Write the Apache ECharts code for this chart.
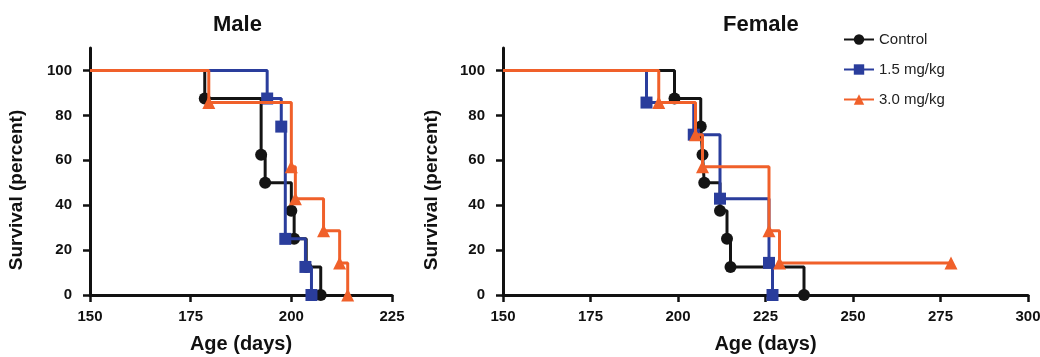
<!DOCTYPE html>
<html>
<head>
<meta charset="utf-8">
<script src="https://cdn.jsdelivr.net/npm/echarts@6/dist/echarts.min.js"></script>
<style>
    html, body { margin: 0; padding: 0; background: #fff; }
    #chart { width: 1040px; height: 357px; }
</style>
</head>
<body>
<div id="chart"></div>
<script>
    // group names (legend)
    var groupNames = ['Control', '1.5 mg/kg', '3.0 mg/kg'];
    var yTicks = [0, 20, 40, 60, 80, 100];

    // Kaplan-Meier points: [age in days, survival %]
    var maleControl = [[150, 100], [178.5, 87.5], [192.5, 62.5], [193.5, 50], [200, 37.5], [200.7, 25], [203.7, 12.5], [207.3, 0]];
    var maleLow = [[150, 100], [194, 87.5], [197.5, 75], [198.5, 25], [203.5, 12.5], [205, 0]];
    var maleHigh = [[150, 100], [179.5, 85.7], [200, 57.1], [201, 42.9], [208, 28.6], [212, 14.3], [214, 0]];

    var femaleControl = [[150, 100], [199, 87.5], [206.5, 75], [207, 62.5], [207.5, 50], [212, 37.5], [214, 25], [215, 12.5], [236, 0]];
    var femaleLow = [[150, 100], [191, 85.7], [204.5, 71.4], [212, 42.9], [226, 14.3], [227, 0]];
    var femaleHigh = [[150, 100], [194.5, 85.7], [205, 71.4], [207, 57.1], [226, 28.6], [229, 14.3], [278, 14.3]];

    var colors = ['#141414', '#2a3d9c', '#f0602a'];
    var symbols = ['circle', 'rect', 'triangle'];
    var fontFamily = '"Liberation Sans", Arial, sans-serif';

    // first point is the start of the curve, no marker there
    function toData(points) {
        return points.map(function (p, i) {
            return i === 0 ? { value: p, symbol: 'none' } : { value: p };
        });
    }

    function makeSeries(points, idx, axisIdx) {
        return {
            name: groupNames[idx],
            type: 'line',
            step: 'end',
            xAxisIndex: axisIdx,
            yAxisIndex: axisIdx,
            data: toData(points),
            symbol: symbols[idx],
            symbolSize: idx === 2 ? 13 : 12,
            showSymbol: true,
            z: 2 + idx,
            lineStyle: { color: colors[idx], width: 3 },
            itemStyle: { color: colors[idx] }
        };
    }

    function makeXAxis(gridIdx, max) {
        return {
            type: 'value',
            gridIndex: gridIdx,
            min: 150,
            max: max,
            interval: 25,
            name: 'Age (days)',
            nameLocation: 'middle',
            nameGap: 39,
            nameTextStyle: { fontSize: 20, fontWeight: 'bold', color: '#111', fontFamily: fontFamily },
            axisLine: { lineStyle: { color: '#111', width: 3 } },
            axisTick: { length: 7, lineStyle: { color: '#111', width: 2.5 } },
            axisLabel: { fontSize: 15, fontWeight: 'bold', color: '#111', margin: 14, fontFamily: fontFamily },
            splitLine: { show: false }
        };
    }

    function makeYAxis(gridIdx) {
        return {
            type: 'value',
            gridIndex: gridIdx,
            min: 0,
            max: 110,
            axisLine: { show: true, lineStyle: { color: '#111', width: 3 } },
            axisTick: { show: true, length: 7, customValues: yTicks, lineStyle: { color: '#111', width: 2.5 } },
            axisLabel: { fontSize: 15, fontWeight: 'bold', color: '#111', margin: 18, customValues: yTicks, fontFamily: fontFamily },
            splitLine: { show: false }
        };
    }

    function yName(x) {
        return {
            type: 'text',
            x: x,
            y: 190,
            rotation: Math.PI / 2,
            style: {
                text: 'Survival (percent)',
                fill: '#111',
                font: 'bold 19px ' + fontFamily,
                textAlign: 'center',
                textVerticalAlign: 'middle'
            }
        };
    }

    var myChart = echarts.init(document.getElementById('chart'));
    var option = {
        animation: false,
        backgroundColor: '#fff',
        title: [
            { text: 'Male', left: 208, top: 9, textStyle: { fontSize: 22, fontWeight: 'bold', color: '#111', fontFamily: fontFamily } },
            { text: 'Female', left: 718, top: 9, textStyle: { fontSize: 22, fontWeight: 'bold', color: '#111', fontFamily: fontFamily } }
        ],
        legend: {
            data: groupNames,
            orient: 'vertical',
            left: 838,
            top: 27,
            itemWidth: 30,
            itemHeight: 13,
            itemGap: 15,
            textStyle: { fontSize: 15, color: '#222', fontFamily: fontFamily }
        },
        grid: [
            { left: 90, width: 302, top: 48, bottom: 62, outerBoundsMode: 'none' },
            { left: 503, width: 525, top: 48, bottom: 62, outerBoundsMode: 'none' }
        ],
        xAxis: [makeXAxis(0, 225), makeXAxis(1, 300)],
        yAxis: [makeYAxis(0), makeYAxis(1)],
        graphic: [yName(17), yName(432)],
        series: [
            makeSeries(maleControl, 0, 0),
            makeSeries(maleLow, 1, 0),
            makeSeries(maleHigh, 2, 0),
            makeSeries(femaleControl, 0, 1),
            makeSeries(femaleLow, 1, 1),
            makeSeries(femaleHigh, 2, 1)
        ]
    };
    myChart.setOption(option);
</script>
</body>
</html>
